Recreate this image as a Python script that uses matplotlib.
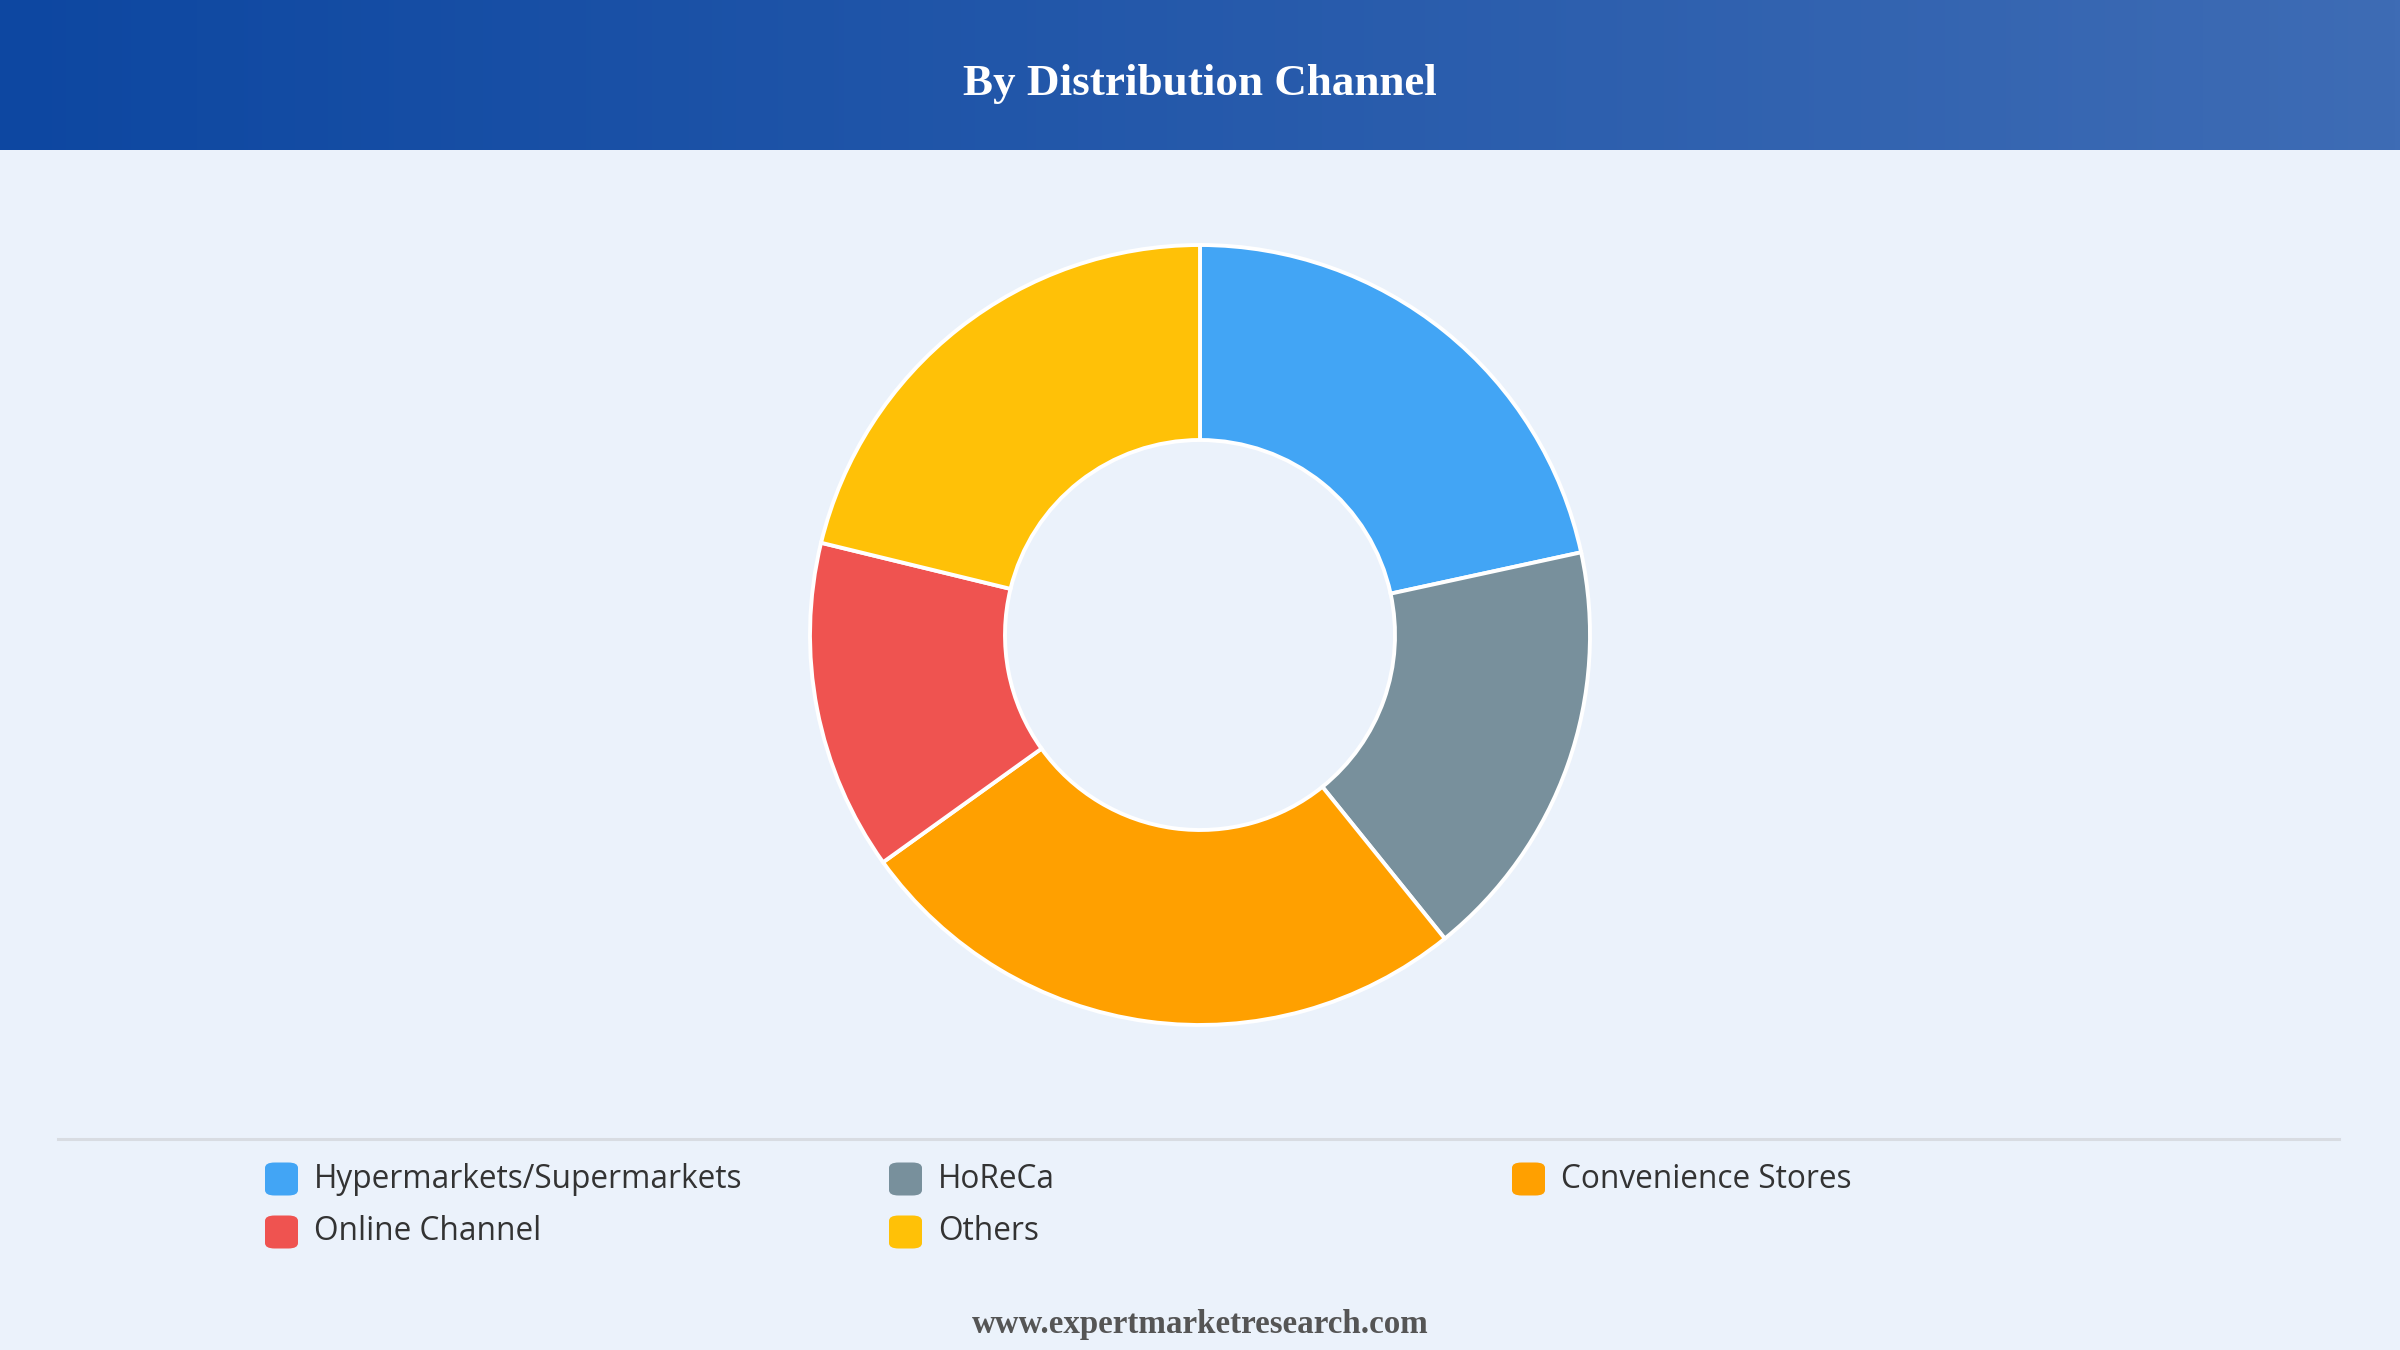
import numpy as np
import matplotlib.pyplot as plt
from matplotlib.patches import FancyBboxPatch
from matplotlib.lines import Line2D

channels = ["Hypermarkets/Supermarkets", "HoReCa", "Convenience Stores",
            "Online Channel", "Others"]
shares = [21.6, 17.6, 25.9, 13.7, 21.2]
colors = ["#42A5F5", "#78909C", "#FFA000", "#EF5350", "#FFC107"]

title = "By Distribution Channel"
footer = "www.expertmarketresearch.com"

W, H = 2400, 1350
bg = "#EBF2FB"

fig = plt.figure(figsize=(24, 13.5), dpi=100)
fig.patch.set_facecolor(bg)

# header band with horizontal gradient
hdr = fig.add_axes([0, 1 - 150 / H, 1, 150 / H])
grad = np.linspace(0, 1, 512).reshape(1, -1)
c0 = np.array([0x0D, 0x47, 0xA1]) / 255
c1 = np.array([0x3E, 0x6C, 0xB5]) / 255
img = c0[None, None, :] * (1 - grad[..., None]) + c1[None, None, :] * grad[..., None]
hdr.imshow(img, aspect="auto", extent=[0, 1, 0, 1])
hdr.set_axis_off()
hdr.text(0.5, 0.44, title, ha="center", va="center", color="white",
         fontsize=32.5, fontweight="bold", family="Liberation Serif")

# donut
cx, cy, r = 1200, 635, 390
half = 410
ax = fig.add_axes([(cx - half) / W, (H - cy - half) / H, 2 * half / W, 2 * half / H])
ax.pie(shares, colors=colors, startangle=90, counterclock=False, radius=1,
       wedgeprops=dict(width=0.5, edgecolor="white", linewidth=2.8))
lim = half / r
ax.set_xlim(-lim, lim)
ax.set_ylim(-lim, lim)
ax.set_axis_off()

# separator
fig.add_artist(Line2D([58 / W, 2339 / W], [1 - 1139 / H, 1 - 1139 / H],
                      color="#D8DCE2", linewidth=2.2))

# legend
col_x = [265, 889, 1512]
row_y = [1179, 1232]
box = 33
for i, (lab, col) in enumerate(zip(channels, colors)):
    x = col_x[i % 3]
    y = row_y[i // 3]
    fig.add_artist(FancyBboxPatch(((x) / W, (H - y - box / 2) / H), box / W, box / H,
                                  boxstyle="round,pad=0,rounding_size=0.004",
                                  facecolor=col, edgecolor="none",
                                  transform=fig.transFigure))
    fig.text((x + box + 16) / W, 1 - y / H, lab, ha="left", va="center",
             fontsize=22.8, color="#333333", family="Open Sans")

fig.text(0.5, 1 - 1324 / H, footer, ha="center", va="center", fontsize=23.8,
         fontweight="bold", color="#555555", family="Liberation Serif")

fig.savefig("out.png", dpi=100, facecolor=bg)
